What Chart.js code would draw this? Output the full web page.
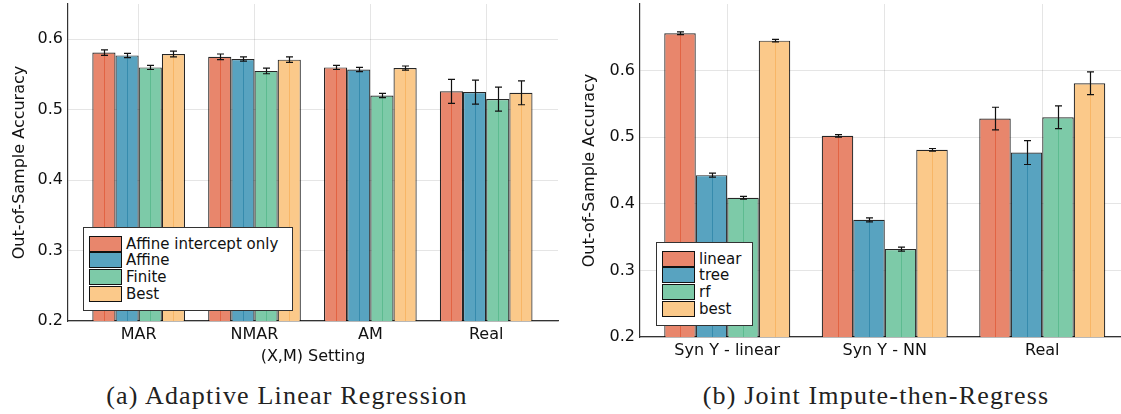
<!DOCTYPE html>
<html><head><meta charset="utf-8">
<script src="https://cdn.jsdelivr.net/npm/chart.js@4/dist/chart.umd.min.js"></script>
<style>
body{margin:0;width:1121px;height:414px;background:#fff;position:relative;overflow:hidden;font-family:"DejaVu Sans",sans-serif}
canvas{position:absolute;top:0}
#ca{left:0}
#cb{left:570px}
.legend{position:absolute;background:#fff;border:1.3px solid #333;box-sizing:border-box}
.row{position:absolute;left:5px;height:17px;display:flex;align-items:center;font-size:15px;color:#111;white-space:nowrap}
.sw{width:33px;height:16px;border:1px solid #111;box-sizing:border-box;margin-right:4px}
.cap{position:absolute;font-family:"Liberation Serif","DejaVu Serif",serif;font-size:26px;letter-spacing:1.2px;color:#222;white-space:nowrap;transform:translateX(-50%)}
</style></head><body>
<canvas id="ca" width="565" height="370"></canvas>
<canvas id="cb" width="551" height="370"></canvas>
<div class="legend" id="la" style="left:83px;top:227px;width:210px;height:84px"></div>
<div class="legend" id="lb" style="left:656px;top:242px;width:97px;height:84px"></div>
<div class="cap" style="left:287px;top:381px">(a) Adaptive Linear Regression</div>
<div class="cap" style="left:876px;top:381px">(b) Joint Impute-then-Regress</div>
<script>
// ---- Data: chart (a) ----
const catsA = ['MAR', 'NMAR', 'AM', 'Real'];
const namesA = ['Affine intercept only', 'Affine', 'Finite', 'Best'];
const interceptOnly = [0.581, 0.575, 0.560, 0.526];
const affine        = [0.577, 0.572, 0.557, 0.525];
const finite        = [0.560, 0.555, 0.520, 0.515];
const bestA         = [0.579, 0.571, 0.559, 0.524];
const interceptOnlyErr = [0.004, 0.004, 0.003, 0.017];
const affineErr        = [0.003, 0.003, 0.003, 0.017];
const finiteErr        = [0.003, 0.004, 0.003, 0.017];
const bestAErr         = [0.004, 0.004, 0.003, 0.017];
const yTicksA = [0.2, 0.3, 0.4, 0.5, 0.6];

// ---- Data: chart (b) ----
const catsB = ['Syn Y - linear', 'Syn Y - NN', 'Real'];
const namesB = ['linear', 'tree', 'rf', 'best'];
const linearB = [0.656, 0.502, 0.528];
const treeB   = [0.443, 0.376, 0.477];
const rfB     = [0.409, 0.332, 0.530];
const bestB   = [0.645, 0.481, 0.581];
const linearBErr = [0.002, 0.002, 0.017];
const treeBErr   = [0.003, 0.003, 0.018];
const rfBErr     = [0.002, 0.003, 0.017];
const bestBErr   = [0.002, 0.002, 0.017];
const yTicksB = [0.2, 0.3, 0.4, 0.5, 0.6];

const fills = ['#E8866C', '#58A3C0', '#7DCAA8', '#FBC98A'];
const inner = ['#E05A3A', '#2E85A8', '#55B68A', '#F8B25C'];

const errPlugin = {
  id: 'errbars',
  afterDatasetsDraw(chart) {
    const ctx = chart.ctx, ys = chart.scales.y, bottom = chart.chartArea.bottom;
    chart.data.datasets.forEach((ds, di) => {
      const meta = chart.getDatasetMeta(di);
      meta.data.forEach((el, i) => {
        ctx.save();
        ctx.strokeStyle = inner[di];
        ctx.globalAlpha = 0.8;
        ctx.lineWidth = 1;
        ctx.beginPath();
        const cx = Math.round(el.x) + 0.5;
        ctx.moveTo(cx, bottom);
        ctx.lineTo(cx, ys.getPixelForValue(ds.data[i].y) + 1);
        ctx.stroke();
        ctx.restore();
      });
    });
    chart.data.datasets.forEach((ds, di) => {
      const meta = chart.getDatasetMeta(di);
      meta.data.forEach((el, i) => {
        const v = ds.data[i].y, e = ds.err[i];
        const y1 = ys.getPixelForValue(v + e), y2 = ys.getPixelForValue(v - e);
        const cx = Math.round(el.x) + 0.5;
        ctx.save();
        ctx.strokeStyle = '#111';
        ctx.lineWidth = 1.2;
        ctx.beginPath();
        ctx.moveTo(cx, y1); ctx.lineTo(cx, y2);
        ctx.moveTo(cx - 3.5, y1); ctx.lineTo(cx + 3.5, y1);
        ctx.moveTo(cx - 3.5, y2); ctx.lineTo(cx + 3.5, y2);
        ctx.stroke();
        ctx.restore();
      });
    });
  }
};

function makeChart(id, cats, names, vals, errs, yTicks, opts) {
  const datasets = names.map((n, k) => ({
    label: n,
    data: vals[k].map((v, i) => ({x: i + 1, y: v})),
    err: errs[k],
    backgroundColor: fills[k],
    borderColor: 'rgba(0,0,0,0.85)',
    borderWidth: 1.2,
    categoryPercentage: 0.8,
    barPercentage: 1.0
  }));
  const font = {family: 'DejaVu Sans', size: 16};
  return new Chart(document.getElementById(id), {
    type: 'bar',
    data: {datasets},
    options: {
      responsive: false,
      animation: false,
      layout: {padding: {top: 4, right: opts.padRight, left: 10, bottom: 0}},
      plugins: {legend: {display: false}, tooltip: {enabled: false}},
      scales: {
        x: {
          type: 'linear',
          offset: false,
          min: opts.xmin, max: opts.xmax,
          afterBuildTicks: s => { s.ticks = cats.map((c, i) => ({value: i + 1})); },
          afterFit: s => { s.height = opts.xh; s.paddingLeft = 0; s.paddingRight = 0; },
          ticks: {font, color: '#111', padding: 4, autoSkip: false, maxRotation: 0,
                  callback: (v, i) => cats[i]},
          grid: {color: 'rgba(0,0,0,0.1)', drawTicks: false, offset: false},
          border: {display: true, color: '#333', width: 1.2},
          title: {display: !!opts.xtitle, text: opts.xtitle || '', font, color: '#111', padding: {top: 0, bottom: 4}}
        },
        y: {
          min: 0.2, max: opts.ymax,
          afterBuildTicks: s => { s.ticks = yTicks.map(v => ({value: v})); },
          afterFit: s => { s.width = opts.yw - 10; s.paddingTop = 0; s.paddingBottom = 0; },
          ticks: {font, color: '#111', padding: 5, callback: v => v.toFixed(1)},
          grid: {color: 'rgba(0,0,0,0.1)', drawTicks: false},
          border: {display: true, color: '#333', width: 1.2},
          title: {display: true, text: 'Out-of-Sample Accuracy', font, color: '#111', padding: {top: 0, bottom: 2}}
        }
      }
    },
    plugins: [errPlugin]
  });
}

makeChart('ca', catsA, namesA, [interceptOnly, affine, finite, bestA],
  [interceptOnlyErr, affineErr, finiteErr, bestAErr], yTicksA,
  {xmin: 0.39, xmax: 4.62, ymax: 0.65, yw: 68, xh: 49, padRight: 7, xtitle: '(X,M) Setting'});
makeChart('cb', catsB, namesB, [linearB, treeB, rfB, bestB],
  [linearBErr, treeBErr, rfBErr, bestBErr], yTicksB,
  {xmin: 0.446, xmax: 3.5, ymax: 0.70, yw: 70, xh: 33, padRight: 0});

function legend(id, names) {
  const el = document.getElementById(id);
  names.forEach((n, k) => {
    const r = document.createElement('div');
    r.className = 'row';
    r.style.top = (7 + k * 16.7) + 'px';
    r.innerHTML = '<div class="sw" style="background:' + fills[k] + '"></div><span>' + n + '</span>';
    el.appendChild(r);
  });
}
legend('la', namesA);
legend('lb', namesB);
</script>
</body></html>
